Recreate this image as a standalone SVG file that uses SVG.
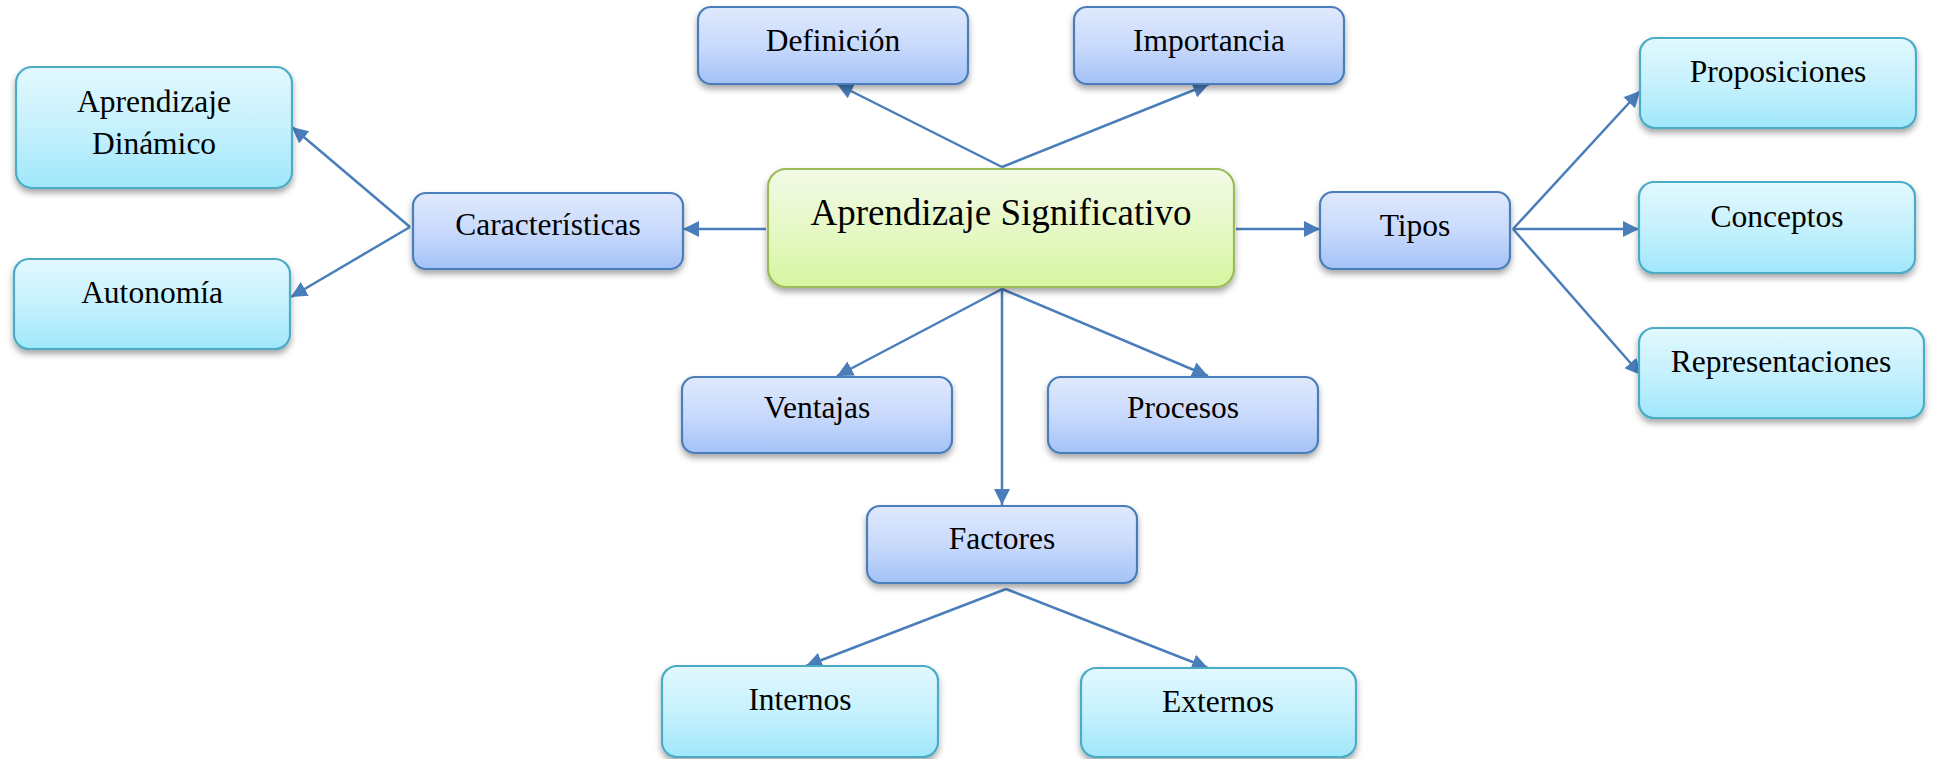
<svg xmlns="http://www.w3.org/2000/svg" width="1933" height="759" viewBox="0 0 1933 759">
<defs>
<linearGradient id="gBlue" x1="0" y1="0" x2="0" y2="1"><stop offset="0" stop-color="#dfe9fd"/><stop offset="0.5" stop-color="#c9dafc"/><stop offset="1" stop-color="#a3c2f7"/></linearGradient>
<linearGradient id="gCyan" x1="0" y1="0" x2="0" y2="1"><stop offset="0" stop-color="#e2f8fe"/><stop offset="0.5" stop-color="#c6f1fd"/><stop offset="1" stop-color="#a0e7fb"/></linearGradient>
<linearGradient id="gGreen" x1="0" y1="0" x2="0" y2="1"><stop offset="0" stop-color="#f3fae6"/><stop offset="0.5" stop-color="#e6f8c6"/><stop offset="1" stop-color="#d6f6a0"/></linearGradient>
<filter id="sh" x="-10%" y="-20%" width="120%" height="150%"><feDropShadow dx="0" dy="4" stdDeviation="3" flood-color="#000" flood-opacity="0.35"/></filter>
<marker id="arr" markerUnits="userSpaceOnUse" markerWidth="18" markerHeight="16" refX="16" refY="8" orient="auto"><path d="M0,0 L16,8 L0,16 Z" fill="#4a7ebb"/></marker>
</defs>
<style>
.blue{fill:url(#gBlue);stroke:#4a7ebb;stroke-width:2.2;filter:url(#sh)}
.cyan{fill:url(#gCyan);stroke:#4bacc6;stroke-width:2.2;filter:url(#sh)}
.green{fill:url(#gGreen);stroke:#9bbb59;stroke-width:2.2;filter:url(#sh)}
text{font-family:"Liberation Serif","Times New Roman",serif;font-size:31.5px;fill:#000;text-anchor:middle}
.big{font-size:37px}
.c{fill:none;stroke:#4a7ebb;stroke-width:2.5;marker-end:url(#arr)}
</style>
<g id="connectors">
<line class="c" x1="1002" y1="167" x2="837" y2="84"/>
<line class="c" x1="1002" y1="167" x2="1209" y2="84"/>
<line class="c" x1="766" y1="229" x2="683" y2="229"/>
<line class="c" x1="1236" y1="229" x2="1320" y2="229"/>
<line class="c" x1="1002" y1="289" x2="837" y2="376"/>
<line class="c" x1="1002" y1="289" x2="1208" y2="376"/>
<line class="c" x1="1002" y1="289" x2="1002" y2="505"/>
<line class="c" x1="410" y1="227" x2="292" y2="127"/>
<line class="c" x1="410" y1="227" x2="291" y2="297"/>
<line class="c" x1="1513" y1="229" x2="1640" y2="91"/>
<line class="c" x1="1513" y1="229" x2="1639" y2="229"/>
<line class="c" x1="1513" y1="229" x2="1641" y2="375"/>
<line class="c" x1="1006" y1="589" x2="806" y2="666"/>
<line class="c" x1="1006" y1="589" x2="1208" y2="668"/>
</g>
<g id="n-center"><rect class="green" x="768" y="169" width="466" height="118" rx="18"/><text class="big" x="1001" y="225">Aprendizaje Significativo</text></g>
<g id="n-definicion"><rect class="blue" x="698" y="7" width="270" height="77" rx="13"/><text x="833" y="51">Definición</text></g>
<g id="n-importancia"><rect class="blue" x="1074" y="7" width="270" height="77" rx="13"/><text x="1209" y="51">Importancia</text></g>
<g id="n-caracteristicas"><rect class="blue" x="413" y="193" width="270" height="76" rx="13"/><text x="548" y="235">Características</text></g>
<g id="n-tipos"><rect class="blue" x="1320" y="192" width="190" height="77" rx="13"/><text x="1415" y="236">Tipos</text></g>
<g id="n-ventajas"><rect class="blue" x="682" y="377" width="270" height="76" rx="13"/><text x="817" y="418">Ventajas</text></g>
<g id="n-procesos"><rect class="blue" x="1048" y="377" width="270" height="76" rx="13"/><text x="1183" y="418">Procesos</text></g>
<g id="n-factores"><rect class="blue" x="867" y="506" width="270" height="77" rx="13"/><text x="1002" y="549">Factores</text></g>
<g id="n-aprendizaje-dinamico"><rect class="cyan" x="16" y="67" width="276" height="121" rx="16"/><text x="154" y="112">Aprendizaje</text><text x="154" y="154">Dinámico</text></g>
<g id="n-autonomia"><rect class="cyan" x="14" y="259" width="276" height="90" rx="15"/><text x="152" y="303">Autonomía</text></g>
<g id="n-proposiciones"><rect class="cyan" x="1640" y="38" width="276" height="90" rx="15"/><text x="1778" y="82">Proposiciones</text></g>
<g id="n-conceptos"><rect class="cyan" x="1639" y="182" width="276" height="91" rx="15"/><text x="1777" y="227">Conceptos</text></g>
<g id="n-representaciones"><rect class="cyan" x="1639" y="328" width="285" height="90" rx="15"/><text x="1781" y="372">Representaciones</text></g>
<g id="n-internos"><rect class="cyan" x="662" y="666" width="276" height="91" rx="15"/><text x="800" y="710">Internos</text></g>
<g id="n-externos"><rect class="cyan" x="1081" y="668" width="275" height="89" rx="15"/><text x="1218" y="712">Externos</text></g>
</svg>
